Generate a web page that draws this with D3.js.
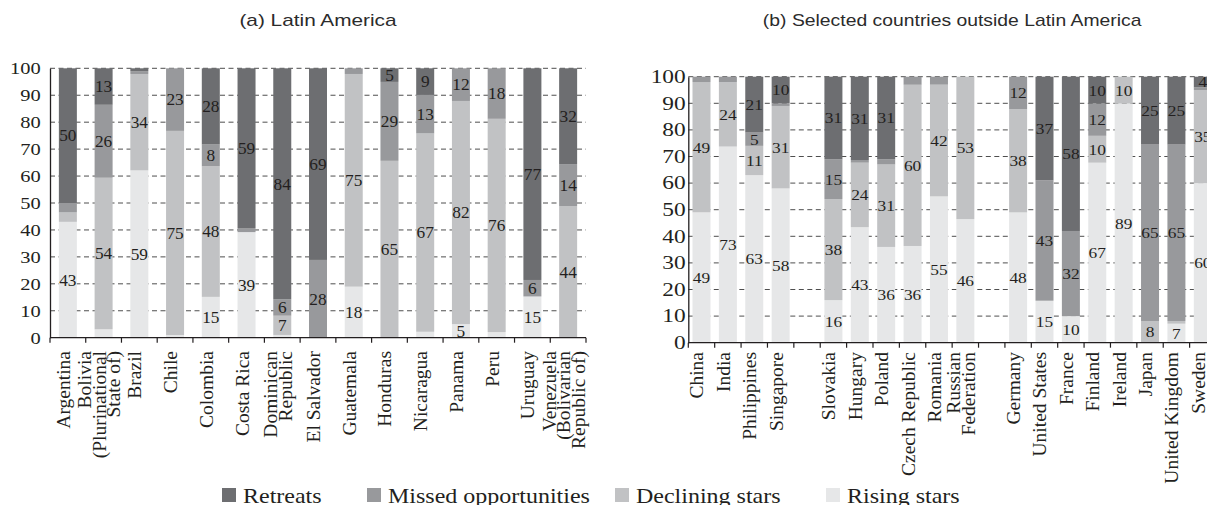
<!DOCTYPE html>
<html>
<head>
<meta charset="utf-8">
<script src="https://cdn.jsdelivr.net/npm/d3@7"></script>
<style>
  body { margin: 0; background: #fff; }
  svg { display: block; overflow: hidden; }
</style>
</head>
<body>
<div id="chart"></div>
<script>
// series, stacked bottom to top
var seriesKeys = ["rising", "declining", "missed", "retreats"];
var legendKeys = ["retreats", "missed", "declining", "rising"];
var legendLabels = ["Retreats", "Missed opportunities", "Declining stars", "Rising stars"];
var colors = {
  retreats: "#6d6e71",
  missed: "#98999c",
  declining: "#c1c2c4",
  rising: "#e6e7e8"
};

var yTicks = [0, 10, 20, 30, 40, 50, 60, 70, 80, 90, 100];

// (a) Latin America
var latinCountries = ["Argentina", "Bolivia\n(Plurinational\nState of)", "Brazil", "Chile", "Colombia",
  "Costa Rica", "Dominican\nRepublic", "El Salvador", "Guatemala", "Honduras", "Nicaragua",
  "Panama", "Peru", "Uruguay", "Venezuela\n(Bolivarian\nRepublic of)"];
var latinRising    = [43,   3, 59,  1, 15, 39,  1,  0, 18,  0,  2,  5,  2, 15,  0];
var latinDeclining = [3.5, 54, 34, 75, 48,  0,  7,  0, 75, 65, 67, 82, 76,  0, 44];
var latinMissed    = [3.5, 26,  1, 23,  8, 1.5, 6, 28,  2, 29, 13, 12, 18,  6, 14];
var latinRetreats  = [50,  13,  1,  0, 28, 59, 84, 69,  0,  5,  9,  0,  0, 77, 32];

// (b) outside Latin America ("" = spacer between groups)
var otherCountries = ["China", "India", "Philippines", "Singapore", "",
  "Slovakia", "Hungary", "Poland", "Czech Republic", "Romania", "Russian\nFederation", "",
  "Germany", "United States", "France", "Finland", "Ireland", "Japan", "United Kingdom", "Sweden"];
var otherRising    = [49, 73, 63, 58, 0, 16, 43, 36, 36, 55, 46, 0, 48, 15, 10, 67, 89,  0,  7, 60];
var otherDeclining = [49, 24, 11, 31, 0, 38, 24, 31, 60, 42, 53, 0, 38,  0,  0, 10, 10,  8,  1, 35];
var otherMissed    = [ 2,  2,  5,  1, 0, 15,  1,  2,  3,  3,  0, 0, 12, 43, 32, 12,  0, 65, 65,  1];
var otherRetreats  = [ 0,  0, 21, 10, 0, 31, 31, 31,  0,  0,  0, 0,  0, 37, 58, 10,  0, 25, 25,  4];

var W = 1207, H = 505;
var serif = "'Liberation Serif', 'Times New Roman', serif";
var sans = "'Liberation Sans', Arial, sans-serif";
var ink = "#231f20";

var svg = d3.select("#chart").append("svg")
  .attr("width", W)
  .attr("height", H);

function drawPanel(p) {
  var rows = p.categories.map(function(c, i) {
    var row = {i: i, name: c};
    var total = 0;
    seriesKeys.forEach(function(k) { total += p.values[k][i]; });
    seriesKeys.forEach(function(k) {
      row["raw_" + k] = p.values[k][i];
      row[k] = total ? p.values[k][i] * 100 / total : 0;
    });
    return row;
  });

  var x = d3.scaleBand()
    .domain(d3.range(rows.length))
    .range([p.x0, p.x1])
    .padding(0);
  var y = d3.scaleLinear()
    .domain([0, 100])
    .range([p.y0, p.y1]);

  var g = svg.append("g");

  // dashed gridlines
  g.selectAll(".grid")
    .data(yTicks.filter(function(t) { return t > 0; }))
    .enter().append("line")
      .attr("x1", p.x0).attr("x2", p.x1)
      .attr("y1", function(d) { return y(d); })
      .attr("y2", function(d) { return y(d); })
      .attr("stroke", "#3a3a3a")
      .attr("stroke-width", 0.9)
      .attr("stroke-dasharray", "5,3.5");

  var layers = d3.stack().keys(seriesKeys)(rows);
  var off = (x.bandwidth() - p.barW) / 2;

  layers.forEach(function(layer) {
    g.selectAll(".bar_" + layer.key)
      .data(layer.filter(function(d) { return d[1] - d[0] > 0; }))
      .enter().append("rect")
        .attr("fill", colors[layer.key])
        .attr("x", function(d) { return x(d.data.i) + off; })
        .attr("width", p.barW)
        .attr("y", function(d) { return y(d[1]); })
        .attr("height", function(d) { return y(d[0]) - y(d[1]); });
  });

  // segment labels
  layers.forEach(function(layer) {
    layer.forEach(function(d) {
      var v = d.data["raw_" + layer.key];
      if (v < 4) return;
      var cx = x(d.data.i) + x.bandwidth() / 2;
      var cy = y((d[0] + d[1]) / 2);
      g.append("text")
        .attr("transform", "translate(" + cx + "," + cy + ") scale(" + p.labelScale + ",1)")
        .attr("text-anchor", "middle")
        .attr("dy", "0.35em")
        .attr("font-family", serif)
        .attr("font-size", p.labelFont)
        .attr("fill", ink)
        .text(v);
    });
  });

  // y axis
  var ya = g.append("g")
    .attr("transform", "translate(" + p.x0 + ",0)")
    .call(d3.axisLeft(y).tickValues(yTicks).tickSize(0).tickSizeOuter(0).tickPadding(p.tickPad));
  ya.select(".domain").attr("stroke", ink).attr("stroke-width", 1.3);
  ya.selectAll("text")
    .attr("font-family", serif)
    .attr("font-size", p.tickFont)
    .attr("fill", ink)
    .attr("transform", "scale(" + p.tickScale + ",1)");

  // x axis with ticks at band edges
  g.append("line")
    .attr("x1", p.x0).attr("x2", p.x1)
    .attr("y1", p.y0).attr("y2", p.y0)
    .attr("stroke", ink).attr("stroke-width", 1.3);
  g.selectAll(".xtick")
    .data(d3.range(rows.length + 1))
    .enter().append("line")
      .attr("x1", function(d) { return p.x0 + d * x.step(); })
      .attr("x2", function(d) { return p.x0 + d * x.step(); })
      .attr("y1", p.y0).attr("y2", p.y0 + 5)
      .attr("stroke", ink).attr("stroke-width", 1.2);

  // rotated category names (baseline sits just right of the band centre)
  rows.forEach(function(r) {
    if (!r.name) return;
    var lines = r.name.split("\n");
    var cx = x(r.i) + x.bandwidth() / 2;
    var t = g.append("text")
      .attr("transform", "translate(" + cx + "," + p.catTop + ") rotate(-90)")
      .attr("text-anchor", "end")
      .attr("font-family", serif)
      .attr("font-size", p.catFont)
      .attr("fill", ink);
    lines.forEach(function(line, j) {
      t.append("tspan")
        .attr("x", 0)
        .attr("y", (j - (lines.length - 1) / 2) * p.lineGap + 2)
        .text(line);
    });
  });

  // title
  svg.append("text")
    .attr("transform", "translate(" + (p.x0 + p.x1) / 2 + ",26) scale(" + p.titleScale + ",1)")
    .attr("text-anchor", "middle")
    .attr("font-family", sans)
    .attr("font-size", 16)
    .attr("fill", "#2b2b2b")
    .text(p.title);
}

drawPanel({
  title: "(a) Latin America",
  categories: latinCountries,
  values: {rising: latinRising, declining: latinDeclining, missed: latinMissed, retreats: latinRetreats},
  x0: 50, x1: 586, y0: 337.7, y1: 68.3,
  barW: 18,
  tickFont: 17.5, tickScale: 1.17, tickPad: 8,
  labelFont: 16.5, labelScale: 1.05,
  catFont: 19.5, catTop: 351, lineGap: 14.5,
  titleScale: 1.3
});

drawPanel({
  title: "(b) Selected countries outside Latin America",
  categories: otherCountries,
  values: {rising: otherRising, declining: otherDeclining, missed: otherMissed, retreats: otherRetreats},
  x0: 688.3, x1: 1216, y0: 342.7, y1: 76.7,
  barW: 18,
  tickFont: 18, tickScale: 1.3, tickPad: 2,
  labelFont: 15.5, labelScale: 1.12,
  catFont: 19.5, catTop: 352, lineGap: 15,
  titleScale: 1.21
});

// legend
var legendX = [222, 367, 615, 826];
var lg = svg.append("g");
legendKeys.forEach(function(k, i) {
  lg.append("rect")
    .attr("x", legendX[i]).attr("y", 488)
    .attr("width", 14).attr("height", 14)
    .attr("fill", colors[k]);
  lg.append("text")
    .attr("transform", "translate(" + (legendX[i] + 21) + ",503) scale(1.2,1)")
    .attr("font-family", serif)
    .attr("font-size", 20)
    .attr("fill", ink)
    .text(legendLabels[i]);
});
</script>
</body>
</html>
